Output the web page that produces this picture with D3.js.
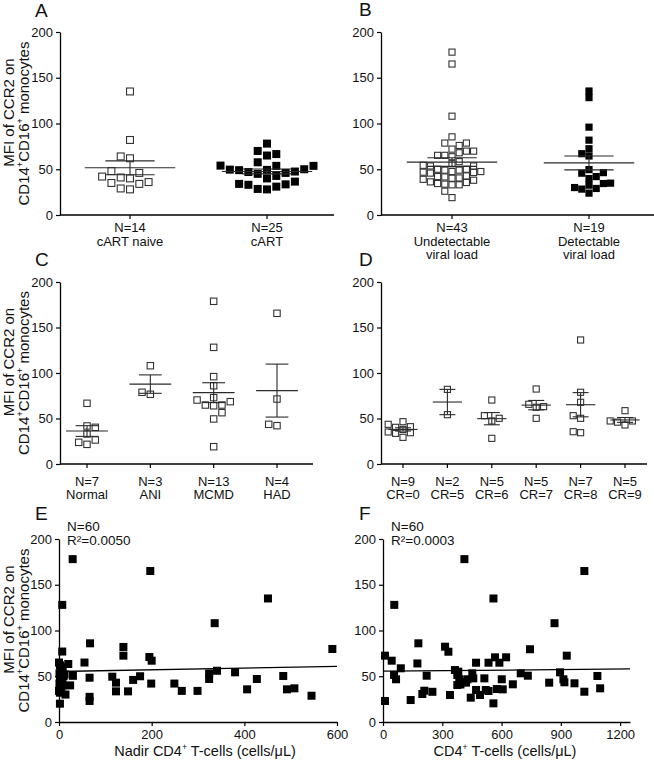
<!DOCTYPE html>
<html><head><meta charset="utf-8">
<script src="https://cdn.jsdelivr.net/npm/d3@7"></script>
<style>
body{margin:0;background:#fff}
text{font-family:Arial,"Liberation Sans",sans-serif;fill:#111}
</style>
</head><body>
<svg id="chart" width="654" height="760"></svg>
<script>
// ---------------- DATA ----------------
const yTicks = [0, 50, 100, 150, 200];

// Panel A
const catsA = [["N=14", "cART naive"], ["N=25", "cART"]];
const filledA = [false, true];
const valsA1 = [135, 82, 62, 64, 46, 41, 40, 42, 48, 36, 34, 35, 28, 29];
const valsA2 = [78, 66.6, 70, 65, 57.6, 49.6, 49.3, 47.5, 54, 53.7, 53.7, 46, 42.7, 40, 45, 47, 49, 50, 36.5, 33, 31, 28, 28.5, 33.5, 34];

// Panel B
const catsB = [["N=43", "Undetectable", "viral load"], ["N=19", "Detectable", "viral load"]];
const filledB = [false, true];
const valsB1 = [178, 165, 108, 85.4, 78.6, 78.6, 72, 69.8, 69.8, 76, 68, 65.2, 63.7, 65.2, 58.3, 56, 53.6, 53.6, 54.3, 50, 49, 47.5, 46.8, 45.8, 46.5, 47.5, 49, 50, 42, 40.5, 39, 36.2, 34.4, 33, 33, 33.7, 35.5, 38, 40.2, 41.6, 42.7, 26, 19];
const valsB2 = [135.5, 128.3, 96, 81.8, 72.4, 67, 64.5, 49.6, 45.7, 46.3, 42, 39.8, 32.6, 29, 34.8, 30, 34.4, 23.9, 28.3];

// Panel C
const catsC = [["N=7", "Normal"], ["N=3", "ANI"], ["N=13", "MCMD"], ["N=4", "HAD"]];
const valsCNormal = [66.7, 40.3, 41.8, 33, 26.4, 21.6, 23.8];
const valsCANI = [108, 76.6, 78.8];
const valsCMCMD = [178.8, 128.2, 96, 86, 70.3, 72.9, 64.8, 64, 64.8, 68.5, 56.4, 49.5, 19];
const valsCHAD = [165.6, 71.4, 42.1, 43.6];

// Panel D
const catsD = [["N=9", "CR=0"], ["N=2", "CR=5"], ["N=5", "CR=6"], ["N=5", "CR=7"], ["N=7", "CR=8"], ["N=5", "CR=9"]];
const valsCR0 = [43.6, 40.3, 41, 46.5, 34.4, 33.7, 35.2, 29.3, 38];
const valsCR5 = [82, 54.2];
const valsCR6 = [70.3, 50.2, 53.1, 47.3, 28.2];
const valsCR7 = [82.4, 63, 62.3, 65.6, 50.2];
const valsCR8 = [136.3, 78.8, 67.8, 53.1, 50.2, 34.4, 35.5];
const valsCR9 = [58.6, 47.3, 42.9, 46, 47.3];

// Panel E
const nadirCD4 = [29.5,197,451,336,7,7,67,139,139,195, 200,55,20,30,66,115,123,123,149,160, 175,199,249,265,299,324,324,341,380,406, 427,484,492,508,545,590,66,66,24, 0,2,5,3,8,1,6,3,10,2, 7,4,12,1,9,3,5,0,14,2,2];
const mfiE = [178,165,135,108,128,77,86,82,72.5,71, 67,65,63.4,50.5,48.4,49.5,43,33.5,33.5,46, 50,42,42,34,34,53,47,56,54.3,35.7, 47,50.3,35.7,36.8,28.7,79.8,27.5,23,40, 65,62,60,57,55,53,51,49,50,47, 46,44,52,42,40,38,36,34,30,32,20];
const xTicksE = [0, 200, 400, 600];
const fitE = [55.2, 0.0095];           // intercept, slope
const annotE = ["N=60", "R²=0.0050"];

// Panel F
const cd4 = [10,44,56,66,90,10,140,174,179,199, 209,221,250,314,331,339,364,376,386,376, 404,427,444,452,457,471,471,491,513,534, 520,534,559,567,576,589,601,606,623,657, 697,733,744,841,868,896,913,918,930,969, 1019,1085,1099, 412,1019,559,57, 381,392,420];
const mfiF = [72.5,67,51.4,46.7,58.7,23,24,64,86,30.6, 34.2,50.6,33,82.3,76.8,29.5,56.8,51.4,46.7,40.4, 44,46.7,26.6,53.2,47.7,64.8,35,29.5,47.7,64.8, 35,33.9,20.4,70.7,36,64.8,46.7,35.7,70.7,41.2, 53.2,50.6,79.5,43,108,54.3,46.7,43.4,72.5,42.3, 33.1,50.3,36.8, 178,165,135,128, 55,41,43];
const xTicksF = [0, 300, 600, 900, 1200];
const fitF = [55.5, 0.002];
const annotF = ["N=60", "R²=0.0003"];

// ---------------- DRAWING ----------------
const svg = d3.select("#chart");
const FS = 13;       // tick font size

function richText(sel, parts, size) {
  let shift = 0;
  parts.forEach(([t, sup]) => {
    const ts = sel.append("tspan").text(t);
    if (sup) {
      ts.attr("font-size", size * 0.6).attr("dy", -size * 0.38);
      shift = size * 0.38;
    } else {
      ts.attr("font-size", size);
      if (shift) { ts.attr("dy", shift); shift = 0; }
    }
  });
}

function yTitle(cx, cy) {
  const g = svg.append("g");
  g.append("text").attr("transform", `translate(${cx - 14.5},${cy - 11}) rotate(-90)`)
    .attr("text-anchor", "middle").attr("font-size", 15).text("MFI of CCR2 on");
  const t = g.append("text").attr("transform", `translate(${cx},${cy}) rotate(-90)`)
    .attr("text-anchor", "middle").attr("font-size", 15);
  richText(t, [["CD14", false], ["+", true], ["CD16", false], ["+", true], [" monocytes", false]], 15);
}

function letter(t, x, y) {
  svg.append("text").attr("x", x).attr("y", y).attr("font-size", 19).text(t);
}

function yAxis(y, ax) {
  const g = svg.append("g").attr("transform", `translate(${ax},0)`)
    .call(d3.axisLeft(y).tickValues(yTicks).tickSize(4).tickSizeOuter(0).tickPadding(3));
  g.select(".domain").attr("stroke", "#000").attr("stroke-width", 1.3);
  g.selectAll(".tick line").attr("stroke", "#000").attr("stroke-width", 1.2);
  g.selectAll(".tick text").attr("font-size", FS).attr("fill", "#111")
    .attr("font-family", "Arial, 'Liberation Sans', sans-serif");
  return g;
}

// beeswarm layout (ascending order, nearest free slot to the centre)
function swarm(vals, y, cx, s, k) {
  const items = vals.map(v => ({ v, py: y(v) })).sort((a, b) => a.v - b.v);
  const placed = [];
  const inc = s / 2, th = s * k;
  items.forEach((p, idx) => {
    let done = false;
    for (let j = 0; j < 100 && !done; j++) {
      let cands = j === 0 ? [0] : [j * inc, -j * inc];
      if (idx % 2) cands = cands.reverse();
      for (const c of cands) {
        const px = cx + c;
        if (!placed.some(q => Math.abs(q.px - px) < th && Math.abs(q.py - p.py) < th)) {
          p.px = px; placed.push(p); done = true; break;
        }
      }
    }
  });
  return items;
}

function drawMarkers(g, pts, filled, ms) {
  const s = filled ? ms : ms - 1.1;
  g.selectAll(null).data(pts).enter().append("rect")
    .attr("x", d => d.px - s / 2)
    .attr("y", d => d.py - s / 2)
    .attr("width", s).attr("height", s)
    .attr("fill", filled ? "#000" : "#fff")
    .attr("stroke", filled ? "none" : "#333")
    .attr("stroke-width", 1.1);
}

function dotPanel(o) {
  const y = d3.scaleLinear().domain([0, 200]).range(o.yr);
  const x = d3.scalePoint().domain(d3.range(o.cats.length)).range(o.xr);
  const step = x.step();
  yAxis(y, o.axisX);
  const g = svg.append("g");
  g.append("line").attr("x1", o.axisX).attr("x2", o.xEnd).attr("y1", y(0)).attr("y2", y(0))
    .attr("stroke", "#000").attr("stroke-width", 1.3);
  o.cats.forEach((lines, i) => {
    g.append("line").attr("x1", x(i)).attr("x2", x(i)).attr("y1", y(0)).attr("y2", y(0) + 4)
      .attr("stroke", "#000").attr("stroke-width", 1.2);
    lines.forEach((l, j) => {
      g.append("text").attr("x", x(i)).attr("y", o.labelY[j]).attr("text-anchor", "middle")
        .attr("font-size", FS).text(l);
    });
  });
  o.groups.forEach((vals, i) => {
    const pts = swarm(vals, y, x(i), o.sp, o.k);
    drawMarkers(g, pts, o.filled[i], o.ms);
  });
  o.groups.forEach((vals, i) => {
    const m = d3.mean(vals);
    const sem = d3.deviation(vals) / Math.sqrt(vals.length);
    const cx = x(i), mw = step * 0.33, cw = step * 0.18;
    const col = "#2a2a2a";
    g.append("line").attr("x1", cx - mw).attr("x2", cx + mw).attr("y1", y(m)).attr("y2", y(m))
      .attr("stroke", col).attr("stroke-width", 1.1);
    g.append("line").attr("x1", cx).attr("x2", cx).attr("y1", y(m - sem)).attr("y2", y(m + sem))
      .attr("stroke", col).attr("stroke-width", 1.1);
    [m - sem, m + sem].forEach(v => g.append("line").attr("x1", cx - cw).attr("x2", cx + cw)
      .attr("y1", y(v)).attr("y2", y(v)).attr("stroke", col).attr("stroke-width", 1.1));
  });
}

function scatterPanel(o) {
  const y = d3.scaleLinear().domain([0, 200]).range(o.yr);
  const x = d3.scaleLinear().domain(o.xDomain).range(o.xr);
  yAxis(y, o.axisX);
  const gx = svg.append("g").attr("transform", `translate(0,${y(0)})`)
    .call(d3.axisBottom(x).tickValues(o.xTicks).tickFormat(d3.format("d"))
      .tickSize(4).tickSizeOuter(0).tickPadding(4));
  gx.select(".domain").attr("stroke", "#000").attr("stroke-width", 1.3);
  gx.selectAll(".tick line").attr("stroke", "#000").attr("stroke-width", 1.2);
  gx.selectAll(".tick text").attr("font-size", FS).attr("fill", "#111")
    .attr("font-family", "Arial, 'Liberation Sans', sans-serif");
  const g = svg.append("g");
  const pts = o.xs.map((v, i) => ({ px: x(v), py: y(o.ys[i]) }));
  drawMarkers(g, pts, true, 8);
  const [a, b] = o.fit;
  g.append("line").attr("x1", x(o.xDomain[0])).attr("x2", x(o.xDomain[1]))
    .attr("y1", y(a + b * o.xDomain[0])).attr("y2", y(a + b * o.xDomain[1]))
    .attr("stroke", "#000").attr("stroke-width", 1.3);
  o.annot.forEach((t, j) => g.append("text").attr("x", o.axisX + 8).attr("y", o.annotY[j])
    .attr("font-size", 13.5).text(t));
  const tt = g.append("text").attr("x", o.titleX).attr("y", o.titleY).attr("text-anchor", "middle")
    .attr("font-size", 14.5);
  richText(tt, o.title, 14.5);
}

// Panel A
letter("A", 35, 17);
yTitle(28.5, 123.5);
dotPanel({ cats: catsA, groups: [valsA1, valsA2], filled: filledA, ms: 8, sp: 9.3, k: 0.9,
  xr: [130, 267], axisX: 60, xEnd: 334, yr: [215, 32], labelY: [231.5, 246] });

// Panel B
letter("B", 359, 16);
dotPanel({ cats: catsB, groups: [valsB1, valsB2], filled: filledB, ms: 7.2, sp: 7.2, k: 0.9,
  xr: [452, 589], axisX: 381, xEnd: 654, yr: [215, 32], labelY: [231.5, 245.5, 259] });

// Panel C
letter("C", 35, 266);
yTitle(28.5, 373);
dotPanel({ cats: catsC, groups: [valsCNormal, valsCANI, valsCMCMD, valsCHAD], filled: [false, false, false, false],
  ms: 7.5, sp: 8.3, k: 0.9, xr: [87, 277], axisX: 60, xEnd: 313, yr: [464, 282], labelY: [485.5, 499] });

// Panel D
letter("D", 359, 266);
dotPanel({ cats: catsD, groups: [valsCR0, valsCR5, valsCR6, valsCR7, valsCR8, valsCR9], filled: [false, false, false, false, false, false],
  ms: 7.2, sp: 7.4, k: 0.8, xr: [403, 625], axisX: 381, xEnd: 647, yr: [464, 282], labelY: [485.5, 499] });

// Panel E
letter("E", 35, 520);
yTitle(28.5, 630.5);
scatterPanel({ xs: nadirCD4, ys: mfiE, xDomain: [0, 600], xTicks: xTicksE, xr: [59, 337], axisX: 59,
  yr: [722, 539], fit: fitE, annot: annotE, annotY: [530.5, 545],
  title: [["Nadir CD4", false], ["+", true], [" T-cells (cells/\u03bcL)", false]], titleX: 205, titleY: 756 });

// Panel F
letter("F", 359, 520);
scatterPanel({ xs: cd4, ys: mfiF, xDomain: [0, 1250], xTicks: xTicksF, xr: [383, 630], axisX: 383,
  yr: [722, 539], fit: fitF, annot: annotF, annotY: [530.5, 545],
  title: [["CD4", false], ["+", true], [" T-cells (cells/\u03bcL)", false]], titleX: 505, titleY: 756 });
</script>
</body></html>
